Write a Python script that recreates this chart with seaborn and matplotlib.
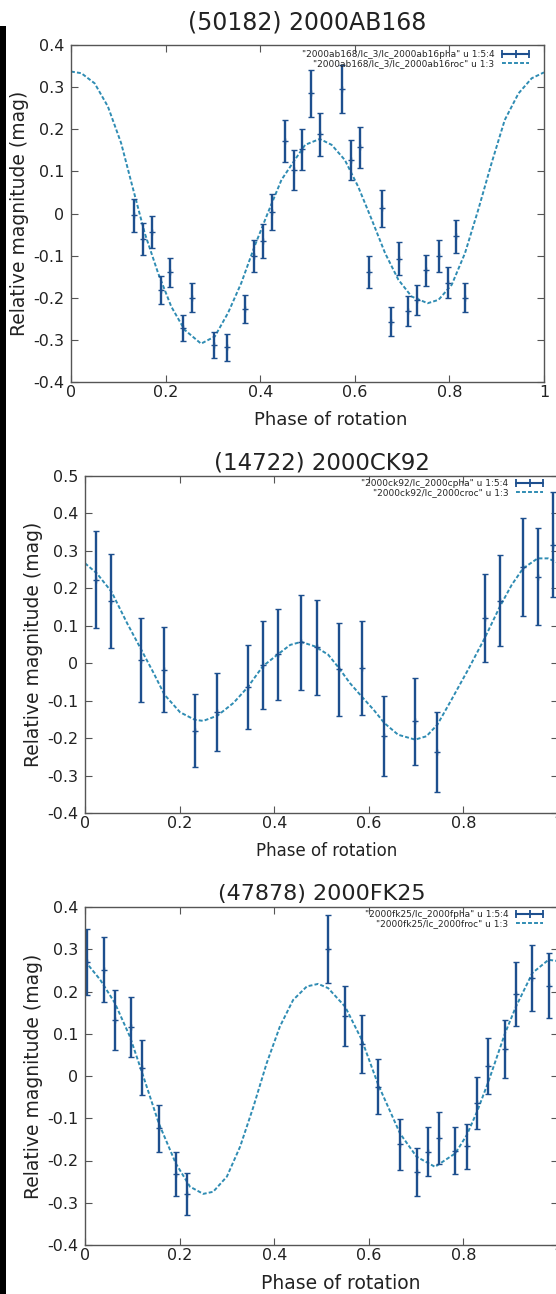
import matplotlib
matplotlib.use('Agg')
import matplotlib.pyplot as plt
import seaborn as sns
from matplotlib.lines import Line2D
from matplotlib.patches import Rectangle
from matplotlib.ticker import FuncFormatter

# (50182) 2000AB168
ab_phase = [0.134, 0.153, 0.172, 0.190, 0.209, 0.237, 0.255, 0.302, 0.330, 0.368, 0.386,
            0.405, 0.424, 0.452, 0.471, 0.489, 0.508, 0.526, 0.573, 0.591, 0.610, 0.630,
            0.657, 0.676, 0.694, 0.713, 0.731, 0.750, 0.779, 0.797, 0.815, 0.834]
ab_mag = [-0.004, -0.061, -0.044, -0.182, -0.140, -0.271, -0.200, -0.313, -0.318, -0.227, -0.101,
          -0.065, 0.004, 0.172, 0.103, 0.152, 0.285, 0.188, 0.295, 0.127, 0.157, -0.140,
          0.012, -0.257, -0.107, -0.232, -0.206, -0.135, -0.101, -0.164, -0.054, -0.200]
ab_err = [0.039, 0.038, 0.038, 0.033, 0.035, 0.031, 0.034, 0.031, 0.031, 0.034, 0.038,
          0.040, 0.042, 0.050, 0.047, 0.049, 0.056, 0.051, 0.057, 0.048, 0.048, 0.038,
          0.043, 0.034, 0.040, 0.035, 0.036, 0.037, 0.038, 0.036, 0.039, 0.034]
ab_fit_phase = [0.0, 0.022, 0.05, 0.078, 0.106, 0.128, 0.156, 0.184, 0.212, 0.240, 0.275, 0.304,
                0.332, 0.360, 0.388, 0.416, 0.445, 0.473, 0.495, 0.526, 0.551, 0.579, 0.607,
                0.636, 0.664, 0.692, 0.720, 0.754, 0.777, 0.805, 0.833, 0.861, 0.889, 0.917,
                0.946, 0.974, 1.0]
ab_fit_mag = [0.337, 0.333, 0.309, 0.254, 0.167, 0.072, -0.047, -0.141, -0.221, -0.276, -0.309,
              -0.292, -0.236, -0.165, -0.078, 0.001, 0.080, 0.127, 0.163, 0.177, 0.163, 0.127,
              0.064, -0.015, -0.094, -0.157, -0.197, -0.213, -0.205, -0.169, -0.094, 0.009,
              0.119, 0.222, 0.285, 0.321, 0.335]

# (14722) 2000CK92
ck_phase = [0.023, 0.056, 0.119, 0.168, 0.232, 0.280, 0.344, 0.376, 0.408, 0.457, 0.490,
            0.537, 0.585, 0.633, 0.698, 0.745, 0.845, 0.877, 0.926, 0.957, 0.990]
ck_mag = [0.223, 0.167, 0.009, -0.017, -0.180, -0.130, -0.064, -0.004, 0.024, 0.056, 0.042,
          -0.016, -0.012, -0.195, -0.155, -0.238, 0.120, 0.167, 0.257, 0.231, 0.316]
ck_err = [0.130, 0.126, 0.112, 0.113, 0.098, 0.105, 0.113, 0.118, 0.122, 0.127, 0.128,
          0.124, 0.126, 0.107, 0.116, 0.107, 0.117, 0.121, 0.131, 0.129, 0.140]
ck_fit_phase = [0.0, 0.025, 0.056, 0.089, 0.119, 0.145, 0.168, 0.201, 0.232, 0.250, 0.280, 0.314,
                0.344, 0.376, 0.408, 0.434, 0.457, 0.486, 0.514, 0.537, 0.560, 0.585, 0.610,
                0.633, 0.662, 0.698, 0.722, 0.745, 0.775, 0.810, 0.845, 0.877, 0.902, 0.926,
                0.957, 0.979, 1.0]
ck_fit_mag = [0.267, 0.240, 0.191, 0.107, 0.036, -0.026, -0.084, -0.131, -0.151, -0.154, -0.140,
              -0.106, -0.064, -0.008, 0.024, 0.049, 0.057, 0.045, 0.023, -0.013, -0.053, -0.089,
              -0.124, -0.160, -0.191, -0.204, -0.195, -0.164, -0.097, -0.017, 0.067, 0.151,
              0.209, 0.253, 0.280, 0.280, 0.268]

# (47878) 2000FK25
fk_phase = [0.004, 0.040, 0.063, 0.098, 0.121, 0.156, 0.192, 0.215, 0.514, 0.550, 0.585, 0.620,
            0.666, 0.701, 0.726, 0.748, 0.783, 0.807, 0.829, 0.853, 0.888, 0.911, 0.946, 0.982]
fk_mag = [0.270, 0.251, 0.133, 0.117, 0.020, -0.124, -0.232, -0.279, 0.300, 0.143, 0.076, -0.025,
          -0.162, -0.227, -0.179, -0.147, -0.177, -0.166, -0.064, 0.024, 0.064, 0.194, 0.233, 0.214]
fk_err = [0.079, 0.077, 0.071, 0.071, 0.066, 0.056, 0.052, 0.049, 0.081, 0.071, 0.068, 0.066,
          0.060, 0.057, 0.058, 0.062, 0.056, 0.053, 0.062, 0.067, 0.068, 0.076, 0.078, 0.076]
fk_fit_phase = [0.0, 0.032, 0.063, 0.095, 0.121, 0.156, 0.192, 0.222, 0.250, 0.271, 0.300, 0.328,
                0.356, 0.384, 0.412, 0.440, 0.469, 0.493, 0.514, 0.550, 0.585, 0.620, 0.666,
                0.701, 0.740, 0.783, 0.807, 0.829, 0.853, 0.888, 0.911, 0.946, 0.980, 1.0]
fk_fit_mag = [0.272, 0.228, 0.173, 0.093, 0.007, -0.112, -0.207, -0.262, -0.279, -0.274, -0.238,
              -0.167, -0.073, 0.030, 0.117, 0.180, 0.212, 0.218, 0.208, 0.164, 0.086, -0.021,
              -0.136, -0.191, -0.215, -0.183, -0.140, -0.084, -0.013, 0.101, 0.164, 0.244,
              0.275, 0.272]

titles = ['(50182) 2000AB168', '(14722) 2000CK92', '(47878) 2000FK25']
pha_labels = ['"2000ab168/lc_3/lc_2000ab16pha" u 1:5:4',
              '"2000ck92/lc_2000cpha" u 1:5:4',
              '"2000fk25/lc_2000fpha" u 1:5:4']
roc_labels = ['"2000ab168/lc_3/lc_2000ab16roc" u 1:3',
              '"2000ck92/lc_2000croc" u 1:3',
              '"2000fk25/lc_2000froc" u 1:3']
x_ticks = [0, 0.2, 0.4, 0.6, 0.8, 1.0]
y_limits = [(-0.4, 0.4), (-0.4, 0.5), (-0.4, 0.4)]

ERR_COLOR = '#1d4f8e'
FIT_COLOR = '#2f8cb3'
FIT_DASH = (0, (2.0, 1.1))

sns.set_style('ticks')
plt.rcParams['font.family'] = ['DejaVu Sans']
plt.rcParams['axes.unicode_minus'] = False

W, H = 556, 1294
fig = plt.figure(figsize=(W / 100, H / 100), dpi=100)

# axes boxes in pixels: left, top, right, bottom
boxes = [(71, 45, 544, 382), (85, 476, 558, 813), (85, 907, 558, 1245)]
title_size = [17, 16.5, 16]
title_pad = [11, 5, 5]
xlabel_x = [0.55, 0.51, 0.54]
xlabel_size = [13, 12, 13.5]
legend_anchor = [(0.975, 0.985), (0.975, 0.99), (0.975, 0.99)]

panels = [(ab_phase, ab_mag, ab_err, ab_fit_phase, ab_fit_mag),
          (ck_phase, ck_mag, ck_err, ck_fit_phase, ck_fit_mag),
          (fk_phase, fk_mag, fk_err, fk_fit_phase, fk_fit_mag)]

fmt = FuncFormatter(lambda v, pos: f'{round(v, 2):g}')

for i, (phase, mag, err, fit_phase, fit_mag) in enumerate(panels):
    l, t, r, b = boxes[i]
    ax = fig.add_axes([l / W, 1 - b / H, (r - l) / W, (b - t) / H])

    # fitted lightcurve
    sns.lineplot(x=fit_phase, y=fit_mag, ax=ax, color=FIT_COLOR, lw=1.4,
                 linestyle=FIT_DASH, sort=False, estimator=None)
    # measured points
    ax.errorbar(phase, mag, yerr=err, fmt='+', color=ERR_COLOR, ms=4, mew=1.0,
                elinewidth=1.7, capsize=2.2, capthick=1.4)

    ax.set_xlim(0, 1)
    ax.set_ylim(*y_limits[i])
    ax.set_xticks(x_ticks)
    lo, hi = y_limits[i]
    ax.set_yticks([round(lo + 0.1 * k, 2) for k in range(int(round((hi - lo) / 0.1)) + 1)])
    ax.xaxis.set_major_formatter(fmt)
    ax.yaxis.set_major_formatter(fmt)
    ax.tick_params(direction='in', top=True, right=True, length=5, width=0.8,
                   color='#555555', labelcolor='#222222', labelsize=11.5)
    ax.tick_params(axis='x', pad=2)
    ax.tick_params(axis='y', pad=5)
    for sp in ax.spines.values():
        sp.set_color('#555555')
        sp.set_linewidth(1.0)

    ax.set_title(titles[i], fontsize=title_size[i], color='#222222', pad=title_pad[i])
    ax.set_xlabel('Phase of rotation', fontsize=xlabel_size[i], color='#222222')
    ax.set_ylabel('Relative magnitude (mag)', fontsize=13.5, color='#222222')
    ax.xaxis.set_label_coords(xlabel_x[i], -0.085)
    ax.yaxis.set_label_coords(-0.088, 0.5)

    h_err = Line2D([], [], color=ERR_COLOR, lw=1.5, marker='|', ms=6, mew=1.3)
    h_fit = Line2D([], [], color=FIT_COLOR, lw=1.4, linestyle=FIT_DASH)
    ax.legend([h_err, h_fit], [pha_labels[i], roc_labels[i]], loc='upper right',
              bbox_to_anchor=legend_anchor[i], frameon=False, markerfirst=False,
              numpoints=3, fontsize=6.5, handlelength=3.6, handletextpad=0.6,
              labelspacing=0.0, borderpad=0, borderaxespad=0)

# dark strip along the left edge of the scan
fig.patches.append(Rectangle((0, 0), 6 / W, 1 - 26 / H, transform=fig.transFigure,
                             facecolor='black', edgecolor='none'))

fig.savefig('out.png', dpi=100)
